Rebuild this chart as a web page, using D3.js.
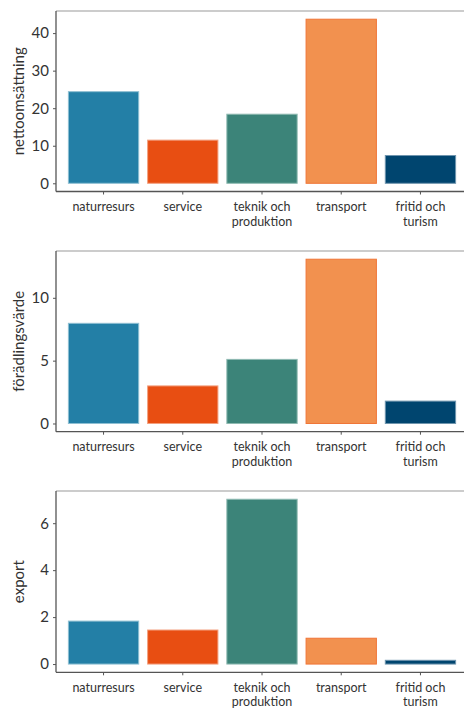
<!DOCTYPE html>
<html>
<head>
<meta charset="utf-8">
<script src="https://cdn.jsdelivr.net/npm/d3@7"></script>
<style>
  body { margin: 0; background: #fff; }
  text { font-family: Lato, "Noto Sans", sans-serif; }
</style>
</head>
<body>
<div id="chart"></div>
<script>
var categories = ["naturresurs", "service", "teknik och produktion", "transport", "fritid och turism"];
var nettoomsattning = [24.4, 11.5, 18.4, 43.7, 7.4];
var foradlingsvarde = [7.97, 2.99, 5.1, 13.07, 1.78];
var exportValues = [1.83, 1.45, 7.02, 1.1, 0.16];
var ticks1 = [0, 10, 20, 30, 40];
var ticks2 = [0, 5, 10];
var ticks3 = [0, 2, 4, 6];

var fills = ["#237fa6", "#e84e12", "#3c8479", "#f2914f", "#00456f"];
var strokes = ["#8ebfd2", "#f3a07f", "#8fbab2", "#f07536", "#6f95ae"];

var svgWidth = 464;
var svgHeight = 708;

var svg = d3.select("#chart")
  .append("svg")
  .attr("width", svgWidth)
  .attr("height", svgHeight);

var panels = [
  { title: "nettoomsättning", values: nettoomsattning, ticks: ticks1, top: 11, bottom: 191.5 },
  { title: "förädlingsvärde", values: foradlingsvarde, ticks: ticks2, top: 251, bottom: 431.7 },
  { title: "export", values: exportValues, ticks: ticks3, top: 491, bottom: 672.3 }
];

var left = 56;
var right = 468;

// discrete x scale, ggplot style (bar width 0.9, 0.6 expansion)
var x = d3.scaleBand()
  .domain(categories)
  .range([left, right])
  .paddingInner(0.1)
  .paddingOuter(0.15);

panels.forEach(function(p) {
  var max = d3.max(p.values);
  var y = d3.scaleLinear()
    .domain([-0.05 * max, 1.05 * max])
    .range([p.bottom, p.top]);

  var g = svg.append("g");

  // bars
  g.selectAll("rect")
    .data(p.values)
    .enter()
    .append("rect")
    .attr("x", (d, i) => x(categories[i]) + 0.5)
    .attr("width", x.bandwidth() - 1)
    .attr("y", d => y(d))
    .attr("height", d => y(0) - y(d))
    .attr("fill", (d, i) => fills[i])
    .attr("stroke", (d, i) => strokes[i])
    .attr("stroke-width", 1);

  // top frame line
  g.append("line")
    .attr("x1", left).attr("x2", right)
    .attr("y1", p.top).attr("y2", p.top)
    .attr("stroke", "#9a9a9a").attr("stroke-width", 1.2);

  // y axis
  var yAxis = g.append("g")
    .attr("transform", `translate(${left}, 0)`)
    .call(d3.axisLeft(y).tickValues(p.ticks).tickSize(3).tickPadding(4).tickFormat(d3.format("d")));
  yAxis.select(".domain")
    .attr("d", `M0,${p.top}V${p.bottom}`)
    .attr("stroke", "#555").attr("stroke-width", 1.3);
  yAxis.selectAll(".tick line").attr("stroke", "#555");
  yAxis.selectAll(".tick text")
    .attr("font-size", "15px")
    .attr("fill", "#333");

  // x axis
  var xAxis = g.append("g")
    .attr("transform", `translate(0, ${p.bottom})`)
    .call(d3.axisBottom(x).tickSize(3).tickFormat(""));
  xAxis.select(".domain")
    .attr("d", `M${left},0H${right}`)
    .attr("stroke", "#555").attr("stroke-width", 1.3);
  xAxis.selectAll(".tick line").attr("stroke", "#555");

  // wrapped category labels
  categories.forEach(function(c) {
    var words = c.split(" ");
    var lines = words.length > 2 ? [words.slice(0, 2).join(" "), words.slice(2).join(" ")] : [c];
    var cx = x(c) + x.bandwidth() / 2;
    var t = g.append("text")
      .attr("text-anchor", "middle")
      .attr("font-size", "12.5px")
      .attr("fill", "#333")
      .attr("x", cx)
      .attr("y", p.bottom + 19.5);
    lines.forEach(function(l, j) {
      t.append("tspan")
        .attr("x", cx)
        .attr("dy", j === 0 ? 0 : 14.5)
        .text(l);
    });
  });

  // y title
  g.append("text")
    .attr("transform", `translate(24, ${(p.top + p.bottom) / 2}) rotate(-90)`)
    .attr("text-anchor", "middle")
    .attr("font-size", "15px")
    .attr("fill", "#333")
    .text(p.title);
});
</script>
</body>
</html>
